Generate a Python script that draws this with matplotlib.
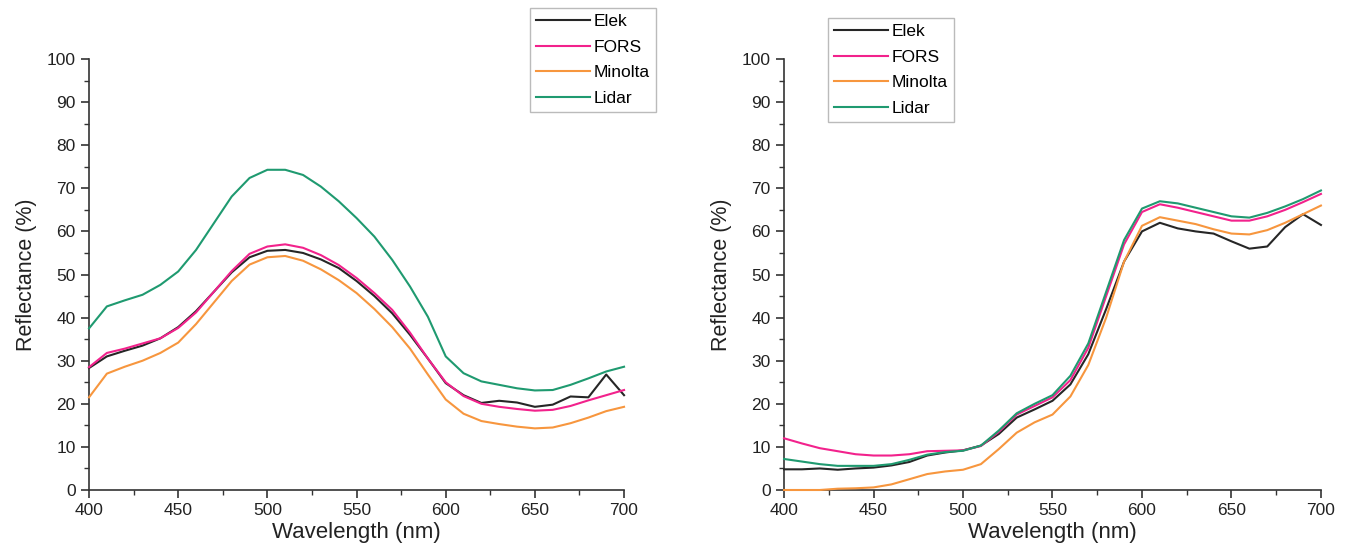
import matplotlib
matplotlib.use("Agg")
import matplotlib.pyplot as plt
from matplotlib.ticker import MultipleLocator

plt.rcParams["font.family"] = ["Liberation Sans", "DejaVu Sans"]

# Wavelength grid (nm)
WL = [400, 410, 420, 430, 440, 450, 460, 470, 480, 490, 500, 510, 520, 530, 540, 550,
      560, 570, 580, 590, 600, 610, 620, 630, 640, 650, 660, 670, 680, 690, 700]

# Left panel
L_ELEK = [28.3, 31.0, 32.3, 33.5, 35.2, 37.8, 41.5, 46.0, 50.5, 54.0, 55.5, 55.7, 55.0, 53.5,
          51.5, 48.5, 45.0, 41.0, 36.0, 30.5, 24.8, 22.0, 20.2, 20.7, 20.3, 19.3, 19.8, 21.7,
          21.5, 26.8, 22.0]
L_FORS = [28.5, 31.8, 32.8, 34.0, 35.2, 37.6, 41.2, 46.0, 50.8, 54.8, 56.5, 57.0, 56.2, 54.5,
          52.2, 49.2, 45.7, 41.8, 36.5, 30.5, 25.0, 21.8, 20.0, 19.3, 18.8, 18.4, 18.6, 19.5,
          20.8, 22.0, 23.2]
L_MINOLTA = [21.5, 27.0, 28.6, 30.0, 31.8, 34.2, 38.5, 43.5, 48.5, 52.3, 54.0, 54.3, 53.2, 51.2,
             48.7, 45.7, 42.0, 37.8, 32.8, 26.8, 21.0, 17.7, 16.0, 15.3, 14.7, 14.3, 14.5, 15.5,
             16.8, 18.3, 19.3]
L_LIDAR = [37.5, 42.6, 44.0, 45.3, 47.6, 50.7, 55.7, 61.9, 68.1, 72.4, 74.3, 74.3, 73.1, 70.4,
           67.0, 63.1, 58.8, 53.4, 47.2, 40.2, 31.0, 27.1, 25.2, 24.4, 23.6, 23.1, 23.2, 24.4,
           25.9, 27.5, 28.6]

# Right panel
R_ELEK = [4.8, 4.8, 5.0, 4.7, 5.0, 5.2, 5.7, 6.5, 8.0, 8.7, 9.2, 10.3, 13.0, 16.8, 18.7, 20.7,
          24.5, 31.5, 42.0, 53.0, 60.0, 62.0, 60.7, 60.0, 59.5, 57.7, 56.0, 56.5, 61.0, 64.0, 61.5]
R_FORS = [12.0, 10.8, 9.7, 9.0, 8.3, 8.0, 8.0, 8.3, 9.0, 9.1, 9.2, 10.2, 13.5, 17.5, 19.5, 21.5,
          25.5, 33.0, 45.0, 57.0, 64.5, 66.3, 65.5, 64.5, 63.5, 62.5, 62.5, 63.5, 65.0, 66.8, 68.7]
R_MINOLTA = [0.0, 0.0, 0.0, 0.3, 0.4, 0.6, 1.3, 2.5, 3.7, 4.3, 4.7, 6.0, 9.5, 13.3, 15.7, 17.5,
             21.7, 29.0, 40.0, 53.0, 61.3, 63.3, 62.5, 61.7, 60.5, 59.5, 59.3, 60.3, 62.0, 64.0, 66.0]
R_LIDAR = [7.2, 6.6, 6.0, 5.6, 5.6, 5.6, 6.0, 7.0, 8.2, 8.8, 9.1, 10.3, 13.8, 17.8, 20.0, 22.0,
           26.5, 34.0, 46.0, 58.0, 65.3, 67.0, 66.5, 65.5, 64.5, 63.5, 63.2, 64.3, 65.8, 67.5, 69.5]

LABELS = ["Elek", "FORS", "Minolta", "Lidar"]
COLORS = ["#262626", "#f2228c", "#f7963e", "#1f9a70"]

fig = plt.figure(figsize=(13.49, 5.6), dpi=100)
ax1 = fig.add_axes([0.066, 0.125, 0.3966, 0.7696])
ax2 = fig.add_axes([0.5812, 0.125, 0.398, 0.7696])


def style(ax, series, legend_anchor):
    for ys, lab, c in zip(series, LABELS, COLORS):
        ax.plot(WL, ys, color=c, lw=1.5, label=lab, clip_on=False, zorder=3)
    ax.set_xlim(400, 700)
    ax.set_ylim(0, 100)
    ax.xaxis.set_major_locator(MultipleLocator(50))
    ax.xaxis.set_minor_locator(MultipleLocator(25))
    ax.yaxis.set_major_locator(MultipleLocator(10))
    ax.yaxis.set_minor_locator(MultipleLocator(5))
    ax.spines["top"].set_visible(False)
    ax.spines["right"].set_visible(False)
    for s in ("left", "bottom"):
        ax.spines[s].set_linewidth(1.2)
        ax.spines[s].set_color("#333333")
        ax.spines[s].set_zorder(2)
    ax.tick_params(which="major", length=6, width=1.2, labelsize=12.5, colors="#333333",
                   labelcolor="#222222")
    ax.tick_params(which="minor", length=3.5, width=1.0, colors="#333333")
    ax.set_xlabel("Wavelength (nm)", fontsize=16, color="#222222", labelpad=3)
    ax.set_ylabel("Reflectance (%)", fontsize=15.5, color="#222222", labelpad=7)
    leg = ax.legend(loc="upper left", bbox_to_anchor=legend_anchor, bbox_transform=fig.transFigure,
                    fontsize=12.5, frameon=True, fancybox=False, handlelength=3.1,
                    handletextpad=0.2, labelspacing=0.6, borderpad=0.35, borderaxespad=0)
    leg.get_frame().set_edgecolor("#aaaaaa")
    leg.get_frame().set_linewidth(1.0)
    return leg


style(ax1, [L_ELEK, L_FORS, L_MINOLTA, L_LIDAR], (530 / 1349, 1 - 8 / 560))
style(ax2, [R_ELEK, R_FORS, R_MINOLTA, R_LIDAR], (828 / 1349, 1 - 18 / 560))

fig.savefig("out.png", dpi=100)
